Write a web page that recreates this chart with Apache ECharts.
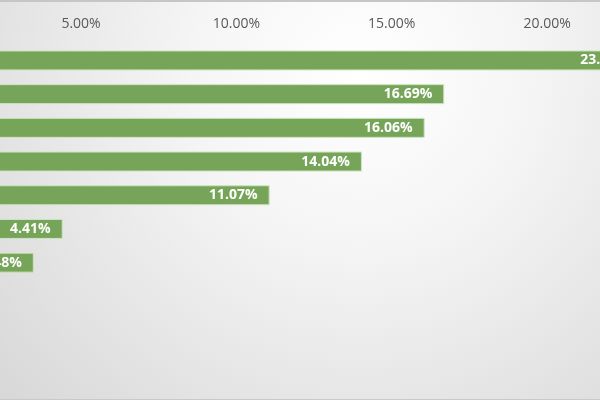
<!DOCTYPE html>
<html>
<head>
<meta charset="utf-8">
<script src="https://cdn.jsdelivr.net/npm/echarts@6/dist/echarts.min.js"></script>
<style>
  html, body { margin: 0; padding: 0; }
  #wrap { position: relative; width: 600px; height: 400px; overflow: hidden; }
  #chart { width: 600px; height: 400px; }
  #frame { position: absolute; left: 0; top: 0; width: 600px; height: 400px; box-sizing: border-box;
           border-top: 2px solid #c6c6c6; border-bottom: 1px solid #c9c9c9; pointer-events: none; }
</style>
</head>
<body>
<div id="wrap"><div id="chart"></div><div id="frame"></div></div>
<script>
// Data (categories are cut off in the reference, so their names are placeholders)
const categories = ['Item 1', 'Item 2', 'Item 3', 'Item 4', 'Item 5', 'Item 6', 'Item 7'];
const values = [23.02, 16.69, 16.06, 14.04, 11.07, 4.41, 3.48];
const tickInterval = 5;
const axisMin = 0;
const axisMax = 25;

const chart = echarts.init(document.getElementById('chart'), null, { renderer: 'canvas' });
const fontFamily = '"Open Sans", "Liberation Sans", sans-serif';
chart.setOption({
  animation: false,
  backgroundColor: {
    type: 'radial', x: 0.6, y: 0.18, r: 1.2,
    colorStops: [
      { offset: 0, color: '#ffffff' },
      { offset: 0.35, color: '#f5f5f5' },
      { offset: 1, color: '#d8d8d8' }
    ]
  },
  grid: { left: -74.3, top: 43.6, width: 776.75, height: 235.9, containLabel: false, outerBoundsMode: 'none' },
  xAxis: {
    type: 'value', position: 'top', min: axisMin, max: axisMax, interval: tickInterval,
    axisLine: { show: false }, axisTick: { show: false }, splitLine: { show: false },
    axisLabel: {
      margin: 13, color: '#595959', fontSize: 14, fontFamily: fontFamily,
      formatter: v => v.toFixed(2) + '%'
    }
  },
  yAxis: {
    type: 'category', data: categories, inverse: true,
    axisLine: { show: false }, axisTick: { show: false }, axisLabel: { show: false }
  },
  series: [{
    type: 'bar', data: values, barWidth: 20,
    itemStyle: { color: '#76a559', borderColor: '#cfe3c2', borderWidth: 1 },
    label: {
      show: true, position: 'insideRight', distance: 12,
      color: '#ffffff', fontWeight: 'bold', fontSize: 14, fontFamily: fontFamily,
      formatter: p => p.value.toFixed(2) + '%'
    }
  }]
});
</script>
</body>
</html>
